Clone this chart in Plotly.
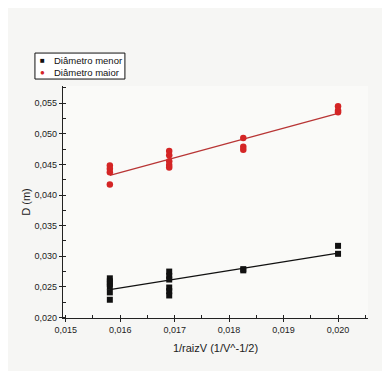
import numpy as np
import plotly.graph_objects as go

x_menor = [0.01581]*6 + [0.01690]*6 + [0.01826]*2 + [0.02000]*2
d_menor = [0.0264, 0.0259, 0.0255, 0.0250, 0.0241, 0.0229,
           0.0275, 0.0268, 0.0262, 0.0249, 0.0243, 0.0236,
           0.0277, 0.0279,
           0.0317, 0.0304]
x_maior = [0.01581]*4 + [0.01690]*5 + [0.01826]*3 + [0.02000]*3
d_maior = [0.0448, 0.0443, 0.0437, 0.0417,
           0.0472, 0.0465, 0.0455, 0.0449, 0.0445,
           0.0493, 0.0479, 0.0474,
           0.0545, 0.0538, 0.0535]
legend_names = ["Diâmetro menor", "Diâmetro maior"]
x_ticks = [0.015, 0.016, 0.017, 0.018, 0.019, 0.020]
y_ticks = [0.020, 0.025, 0.030, 0.035, 0.040, 0.045, 0.050, 0.055]

font = "Liberation Sans, Arial, sans-serif"
black = "#111111"
red = "#d42525"
fig = go.Figure()

for xs, ys, lcolor in [(x_menor, d_menor, black), (x_maior, d_maior, "#b83535")]:
    m, b = np.polyfit(xs, ys, 1)
    xl = np.array([min(xs), max(xs)])
    fig.add_trace(go.Scatter(x=xl, y=m*xl + b, mode="lines",
                             line=dict(color=lcolor, width=1.3),
                             showlegend=False, hoverinfo="skip"))

fig.add_trace(go.Scatter(x=x_menor, y=d_menor, mode="markers", name=legend_names[0],
                         marker=dict(symbol="square", size=6, color=black)))
fig.add_trace(go.Scatter(x=x_maior, y=d_maior, mode="markers", name=legend_names[1],
                         marker=dict(symbol="circle", size=6.5, color=red)))

axis_common = dict(showline=True, linecolor="#222222", linewidth=1.3,
                   ticks="outside", ticklen=3, tickcolor="#222222", tickwidth=1,
                   showgrid=False, zeroline=False, mirror=False,
                   tickfont=dict(family=font, size=9, color="#222222"))

# compact legend box (paper coords relative to plot area)
fig.add_shape(type="rect", xref="paper", yref="paper",
              x0=-0.092, x1=0.203, y0=1.030, y1=1.142,
              line=dict(color=black, width=1), fillcolor="#ffffff", layer="above")
for i, (name, sym, col) in enumerate(zip(legend_names, ["■", "●"], [black, red])):
    yy = 1.112 - i * 0.052
    fig.add_annotation(x=-0.066, y=yy, xref="paper", yref="paper", text=sym,
                       showarrow=False, font=dict(family=font, size=8, color=col),
                       xanchor="center", yanchor="middle")
    fig.add_annotation(x=-0.037, y=yy, xref="paper", yref="paper", text=name,
                       showarrow=False, font=dict(family=font, size=9.5, color=black),
                       xanchor="left", yanchor="middle")

# the page body adds an 8px offset; figure sized/margined to compensate
fig.update_layout(
    width=382, height=363,
    margin=dict(l=55, r=22, t=78, b=53),
    paper_bgcolor="#f6f6f4", plot_bgcolor="#fafaf8",
    separators=", ",
    font=dict(family=font, color="#222222"),
    xaxis=dict(range=[0.01495, 0.02055], tickvals=x_ticks, tickformat=".3f",
               title=dict(text="1/raizV (1/V^-1/2)", font=dict(family=font, size=11, color="#222222"), standoff=10),
               minor=dict(ticks="inside", ticklen=3, dtick=0.0005, tickcolor="#222222"),
               **axis_common),
    yaxis=dict(range=[0.01992, 0.0578], tickvals=y_ticks, tickformat=".3f",
               title=dict(text="D (m)", font=dict(family=font, size=11, color="#222222"), standoff=1),
               minor=dict(ticks="inside", ticklen=3, dtick=0.0025, tickcolor="#222222"),
               **axis_common),
    showlegend=False,
)

fig.write_html("out.html")
